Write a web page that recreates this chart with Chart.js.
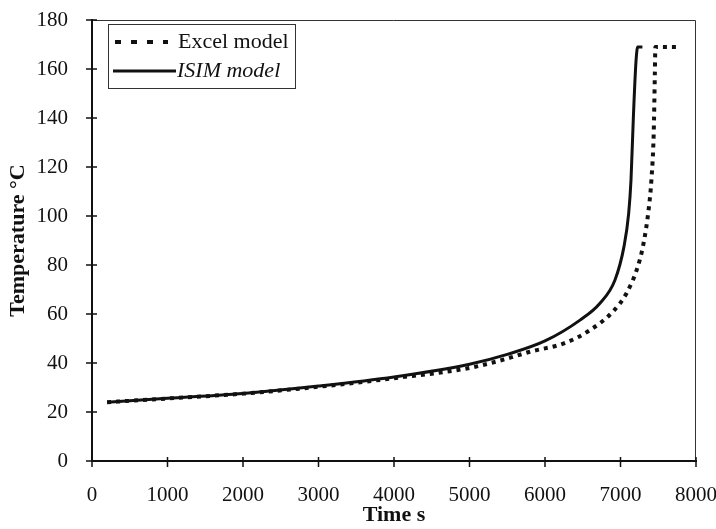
<!DOCTYPE html>
<html>
<head>
<meta charset="utf-8">
<script src="https://cdn.jsdelivr.net/npm/chart.js@4.4.1/dist/chart.umd.min.js"></script>
<style>
  html, body { margin: 0; padding: 0; background: #fff; }
  #chart { display: block; }
</style>
</head>
<body>
<canvas id="chart" width="716" height="529"></canvas>
<script>
// values
const excelTime = [200, 1000, 2000, 3000, 4000, 5000, 5500, 5800, 6250, 6600, 6900, 7080, 7220, 7300, 7370, 7410, 7440, 7455, 7462, 7775];
const excelTemp = [24, 25.5, 27.5, 30.3, 33.8, 38, 41.8, 44.6, 48, 53.5, 61, 68.5, 78.5, 88, 102, 115, 134, 158, 169, 169];
const isimTime = [200, 1000, 2000, 3000, 4000, 5000, 5500, 6000, 6464, 6728, 6927, 7046, 7108, 7139, 7170, 7205, 7228, 7290];
const isimTemp = [24, 25.6, 27.6, 30.6, 34.3, 39.5, 43.5, 49, 57.5, 64.4, 73.9, 87.5, 101, 114.7, 140, 163, 169, 169];
const xTicks = [0, 1000, 2000, 3000, 4000, 5000, 6000, 7000, 8000];
const yTicks = [0, 20, 40, 60, 80, 100, 120, 140, 160, 180];

const serif = "'Liberation Serif', 'DejaVu Serif', serif";
const ink = "#111";

function pts(xs, ys) {
  return xs.map((x, i) => ({ x: x, y: ys[i] }));
}

// ticks crossing the axes + thin frame on top/right
const frameTicks = {
  id: "frameTicks",
  afterDraw(chart) {
    const ctx = chart.ctx;
    const a = chart.chartArea;
    const xs = chart.scales.x, ys = chart.scales.y;
    ctx.save();
    ctx.strokeStyle = "#333";
    ctx.lineWidth = 1;
    ctx.beginPath();
    ctx.moveTo(a.left, a.top + 0.5);
    ctx.lineTo(a.right - 0.5, a.top + 0.5);
    ctx.lineTo(a.right - 0.5, a.bottom);
    ctx.stroke();
    ctx.strokeStyle = ink;
    ctx.lineWidth = 1.5;
    ctx.beginPath();
    xTicks.forEach(v => {
      const p = xs.getPixelForValue(v);
      ctx.moveTo(p, a.bottom - 4);
      ctx.lineTo(p, a.bottom + 6);
    });
    yTicks.forEach(v => {
      const p = ys.getPixelForValue(v);
      ctx.moveTo(a.left - 6, p);
      ctx.lineTo(a.left + 5, p);
    });
    ctx.stroke();
    ctx.restore();
  }
};

// boxed legend in the upper left
const boxLegend = {
  id: "boxLegend",
  afterDraw(chart) {
    const ctx = chart.ctx;
    const a = chart.chartArea;
    const bx = a.left + 16, by = a.top + 4, bw = 187, bh = 64;
    ctx.save();
    ctx.fillStyle = "#fff";
    ctx.fillRect(bx, by, bw, bh);
    ctx.strokeStyle = "#333";
    ctx.lineWidth = 1;
    ctx.strokeRect(bx + 0.5, by + 0.5, bw, bh);
    ctx.strokeStyle = ink;
    ctx.lineWidth = 4;
    ctx.setLineDash([6, 10]);
    ctx.beginPath();
    ctx.moveTo(bx + 7, by + 18);
    ctx.lineTo(bx + 60, by + 18);
    ctx.stroke();
    ctx.setLineDash([]);
    ctx.lineWidth = 3;
    ctx.beginPath();
    ctx.moveTo(bx + 5, by + 47);
    ctx.lineTo(bx + 68, by + 47);
    ctx.stroke();
    ctx.fillStyle = ink;
    ctx.textBaseline = "middle";
    ctx.font = "22px " + serif;
    ctx.fillText("Excel model", bx + 70, by + 18);
    ctx.font = "italic 22px " + serif;
    ctx.fillText("ISIM model", bx + 69, by + 47);
    ctx.restore();
  }
};

new Chart(document.getElementById("chart"), {
  type: "line",
  data: {
    datasets: [
      {
        label: "Excel model",
        data: pts(excelTime, excelTemp),
        borderColor: ink,
        borderWidth: 4,
        borderDash: [4, 5],
        pointRadius: 0,
        fill: false,
        cubicInterpolationMode: "monotone"
      },
      {
        label: "ISIM model",
        data: pts(isimTime, isimTemp),
        borderColor: ink,
        borderWidth: 3,
        pointRadius: 0,
        fill: false,
        cubicInterpolationMode: "monotone"
      }
    ]
  },
  options: {
    responsive: false,
    animation: false,
    layout: { padding: { top: 20, right: 20, left: 0, bottom: 0 } },
    plugins: {
      legend: { display: false },
      tooltip: { enabled: false }
    },
    scales: {
      x: {
        type: "linear",
        min: 0,
        max: 8000,
        afterBuildTicks: s => { s.ticks = xTicks.map(v => ({ value: v })); },
        afterFit: s => { s.height = 68; s.paddingLeft = 0; s.paddingRight = 0; },
        ticks: {
          color: ink,
          font: { family: serif, size: 21 },
          padding: 22,
          maxRotation: 0,
          callback: v => String(v)
        },
        grid: { drawOnChartArea: false, drawTicks: false },
        border: { color: ink, width: 2 },
        title: {
          display: true,
          text: "Time s",
          color: ink,
          font: { family: serif, size: 22, weight: "bold" },
          padding: { top: 0, bottom: 0 }
        }
      },
      y: {
        min: 0,
        max: 180,
        afterBuildTicks: s => { s.ticks = yTicks.map(v => ({ value: v })); },
        afterFit: s => { s.width = 92; s.paddingTop = 0; s.paddingBottom = 0; },
        ticks: {
          color: ink,
          font: { family: serif, size: 21 },
          padding: 24,
          callback: v => String(v)
        },
        grid: { drawOnChartArea: false, drawTicks: false },
        border: { color: ink, width: 2 },
        title: {
          display: true,
          text: "Temperature °C",
          color: ink,
          font: { family: serif, size: 22, weight: "bold" },
          padding: { top: 5, bottom: 0 }
        }
      }
    }
  },
  plugins: [frameTicks, boxLegend]
});
</script>
</body>
</html>
